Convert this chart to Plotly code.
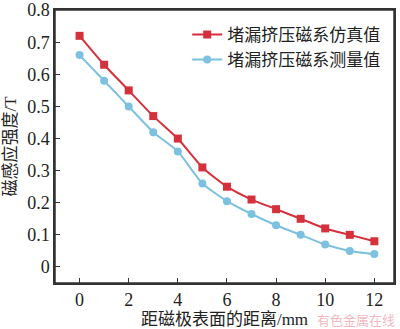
import plotly.graph_objects as go

distance = [0, 1, 2, 3, 4, 5, 6, 7, 8, 9, 10, 11, 12]
simulated = [0.72, 0.63, 0.55, 0.47, 0.40, 0.31, 0.25, 0.21, 0.18, 0.15, 0.12, 0.10, 0.08]
measured = [0.66, 0.58, 0.50, 0.42, 0.36, 0.26, 0.205, 0.165, 0.13, 0.10, 0.07, 0.05, 0.04]
name_sim = "堵漏挤压磁系仿真值"
name_meas = "堵漏挤压磁系测量值"
x_ticks = [0, 2, 4, 6, 8, 10, 12]
y_ticks = [0, 0.1, 0.2, 0.3, 0.4, 0.5, 0.6, 0.7, 0.8]

FONT = "'Liberation Serif', 'Noto Sans CJK SC'"
RED = "#d4313c"
BLUE = "#7dc1e0"

fig = go.Figure()
fig.add_trace(go.Scatter(x=distance, y=simulated, name=name_sim, mode="lines+markers",
                         line=dict(color=RED, width=2, shape="spline", smoothing=0.5),
                         marker=dict(symbol="square", size=8, color=RED)))
fig.add_trace(go.Scatter(x=distance, y=measured, name=name_meas, mode="lines+markers",
                         line=dict(color=BLUE, width=2, shape="spline", smoothing=0.5),
                         marker=dict(symbol="circle", size=8, color=BLUE)))

axis_common = dict(showline=True, linecolor="#333", linewidth=1.5, mirror=True,
                   ticks="inside", ticklen=5, tickcolor="#333", showgrid=False,
                   zeroline=False, automargin=False, ticklabeloverflow="allow",
                   tickfont=dict(family=FONT, size=18, color="#222"))

fig.update_xaxes(range=[-1, 12.8], tickvals=x_ticks,
                 title=dict(text="距磁极表面的距离/mm", font=dict(family=FONT, size=17, color="#222"), standoff=8),
                 **axis_common)
fig.update_yaxes(range=[-0.05, 0.8005], tickvals=y_ticks, ticktext=[f"{v:g}" for v in y_ticks],
                 title=dict(text="磁感应强度/T", font=dict(family=FONT, size=17, color="#222"), standoff=6),
                 **axis_common)

# plot frame
fig.add_shape(type="rect", xref="paper", yref="paper", x0=0, y0=0, x1=1, y1=1,
              line=dict(color="#333", width=1.5), fillcolor="rgba(0,0,0,0)", layer="above")

fig.add_annotation(text="有色金属在线", xref="paper", yref="paper", x=1.005, y=-0.172,
                   xanchor="right", yanchor="bottom", showarrow=False, borderpad=0,
                   font=dict(family="Noto Sans CJK SC", size=13, color="rgba(235,160,170,0.75)"))

fig.update_layout(width=400, height=329, margin=dict(l=55, r=6, t=10, b=46, autoexpand=False),
                  paper_bgcolor="white", plot_bgcolor="white",
                  legend=dict(x=0.39, y=0.975, xanchor="left", yanchor="top",
                              bgcolor="rgba(0,0,0,0)", itemwidth=30,
                              font=dict(family=FONT, size=17, color="#222"),
                              tracegroupgap=0),
                  font=dict(family=FONT))

fig.write_html("out.html")
